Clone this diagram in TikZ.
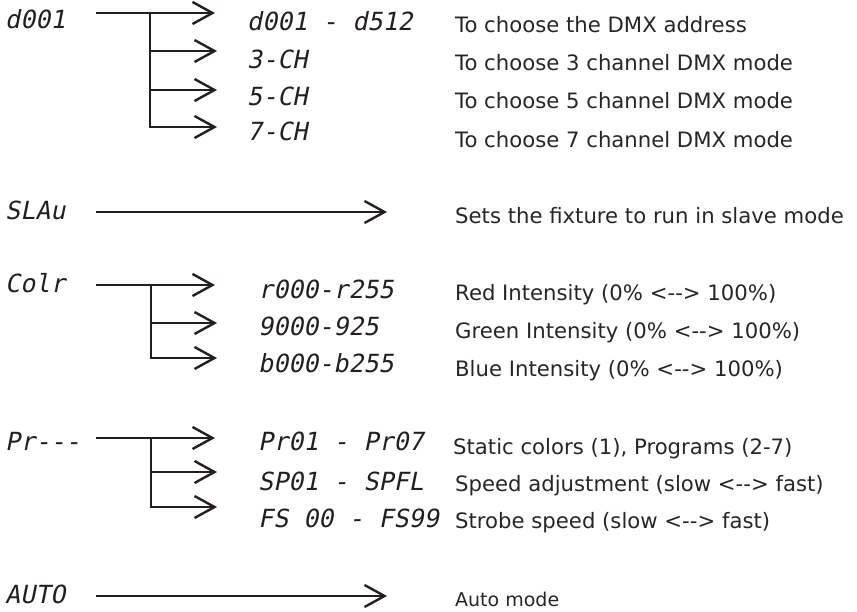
\documentclass[tikz,border=0pt]{standalone}
\usepackage{fontspec}
\newfontfamily\descfont{DejaVu Sans}
\newfontfamily\segfont[FakeSlant=0.2]{DejaVu Sans Mono}
\usetikzlibrary{arrows.meta}
\definecolor{ink}{HTML}{231F20}
\definecolor{txt}{HTML}{262626}
\tikzset{
  arr/.style={draw=ink, line width=2.4pt, line join=miter,
    -{Straight Barb[length=20pt,width=22pt,line width=2.4pt]}},
  seg/.style={anchor=base west, inner sep=0pt, text=ink,
    font=\segfont\fontsize{25}{25}\selectfont},
  desc/.style={anchor=base west, inner sep=0pt, text=txt,
    font=\descfont\fontsize{21.2}{22}\selectfont},
}
\begin{document}
\begin{tikzpicture}[x=1pt,y=-1pt]
  \useasboundingbox (0,0) rectangle (857,611);
  % DMX address and channel modes
  \node[seg] (dmx) at (5,28) {d001};
  \coordinate (dmxs) at (96,13);
  \coordinate (dmxj) at (150,13);
  \coordinate (dmxt) at (215,13);
  \draw[arr] (dmxs) -- (dmxt);
  \node[seg] (dmxv) at (247,30) {d001 - d512};
  \node[desc] (dmxd) at (455,32) {To choose the DMX address};
  \foreach \y/\b/\v/\e/\d [count=\i] in {51/68/3-CH/70/To choose 3 channel DMX mode,
      90/105/5-CH/108/To choose 5 channel DMX mode,
      127/140/7-CH/147/To choose 7 channel DMX mode}{
    \coordinate (dmxt\i) at (217,\y);
    \draw[arr] (dmxj) |- (dmxt\i);
    \node[seg] (dmxv\i) at (247,\b) {\v};
    \node[desc] (dmxd\i) at (455,\e) {\d};
  }
  % slave
  \node[seg] (slv) at (5,219) {SLAu};
  \coordinate (slvs) at (96,212);
  \coordinate (slvt) at (387,212);
  \draw[arr] (slvs) -- (slvt);
  \node[desc] (slvd) at (455,223) {Sets the fixture to run in slave mode};
  % colours
  \node[seg] (col) at (5,292) {Colr};
  \coordinate (cols) at (96,285);
  \coordinate (colj) at (151,285);
  \coordinate (colt) at (215,285);
  \draw[arr] (cols) -- (colt);
  \node[seg] (colv) at (258,298) {r000-r255};
  \node[desc] (cold) at (455,300) {Red Intensity (0\% <--> 100\%)};
  \foreach \y/\b/\v/\e/\d [count=\i] in {323/335/9000-925/338/Green Intensity (0\% <--> 100\%),
      358/372/b000-b255/376/Blue Intensity (0\% <--> 100\%)}{
    \coordinate (colt\i) at (217,\y);
    \draw[arr] (colj) |- (colt\i);
    \node[seg] (colv\i) at (258,\b) {\v};
    \node[desc] (cold\i) at (455,\e) {\d};
  }
  % programs
  \node[seg] (prg) at (5,450) {Pr---};
  \coordinate (prgs) at (96,438);
  \coordinate (prgj) at (151,438);
  \coordinate (prgt) at (215,438);
  \draw[arr] (prgs) -- (prgt);
  \node[seg] (prgv) at (258,450) {Pr01 - Pr07};
  \node[desc] (prgd) at (453,454) {Static colors (1), Programs (2-7)};
  \foreach \y/\b/\v/\e/\d [count=\i] in {472/490/SP01 - SPFL/491/Speed adjustment (slow <--> fast),
      507/527/FS 00 - FS99/528/Strobe speed (slow <--> fast)}{
    \coordinate (prgt\i) at (217,\y);
    \draw[arr] (prgj) |- (prgt\i);
    \node[seg] (prgv\i) at (258,\b) {\v};
    \node[desc] (prgd\i) at (455,\e) {\d};
  }
  % auto
  \node[seg] (aut) at (5,603) {AUTO};
  \coordinate (auts) at (96,596);
  \coordinate (autt) at (387,596);
  \draw[arr] (auts) -- (autt);
  \node[desc, font=\descfont\fontsize{19}{20}\selectfont] (autd) at (455,606) {Auto mode};
\end{tikzpicture}
\end{document}
